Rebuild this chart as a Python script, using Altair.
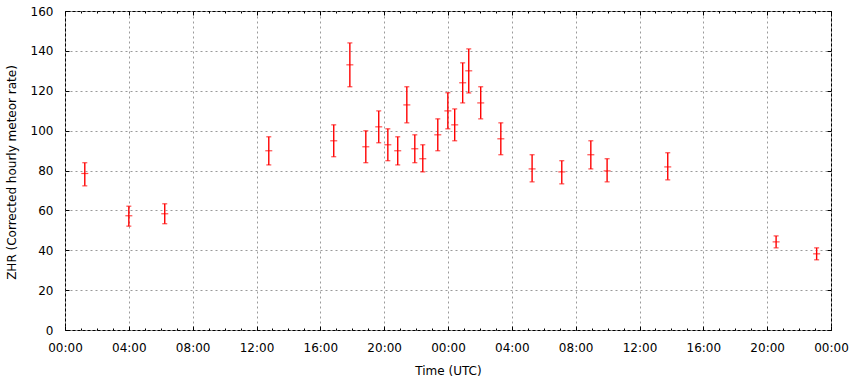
import altair as alt
import pandas as pd

# Observation times in hours from 00:00 UTC of the first day
hours = [1.24, 4.0, 6.25, 12.77, 16.84, 17.85, 18.85, 19.66, 20.23, 20.85, 21.42,
         21.92, 22.42, 23.36, 23.99, 24.42, 24.92, 25.30, 26.05, 27.31, 29.27,
         31.13, 32.95, 33.97, 37.77, 44.56, 47.10]
zhr = [78.5, 57.3, 58.3, 89.9, 94.9, 133.0, 91.9, 101.9, 92.9, 89.9, 112.9,
       90.9, 85.9, 97.9, 109.9, 102.9, 124.0, 130.0, 113.9, 95.9, 80.8,
       79.3, 87.9, 79.8, 81.8, 44.2, 38.2]
zhr_low = [72.3, 52.1, 53.3, 82.8, 86.9, 122.0, 83.9, 93.9, 84.9, 82.8, 103.9,
           83.9, 79.3, 89.9, 100.9, 94.9, 113.9, 118.9, 105.9, 87.9, 74.3,
           73.3, 80.8, 74.3, 75.3, 41.2, 35.2]
zhr_high = [83.9, 62.1, 63.3, 96.9, 102.9, 144.0, 99.9, 109.9, 100.9, 96.9, 122.0,
            97.9, 92.9, 105.9, 119.0, 110.9, 134.0, 141.0, 122.0, 103.9, 87.9,
            84.9, 94.9, 85.9, 88.9, 47.2, 41.2]

x_major = list(range(0, 49, 4))
x_minor = list(range(0, 49, 1))
y_major = list(range(0, 161, 20))

df = pd.DataFrame({"t": hours, "zhr": zhr, "lo": zhr_low, "hi": zhr_high})

xs = alt.Scale(domain=[0, 48], nice=False, zero=False)
ys = alt.Scale(domain=[0, 160], nice=False)

RED = "#ff0000"
GRID = "#9a9a9a"
FONT = "DejaVu Sans"
label_expr = "(datum.value % 24 < 10 ? '0' : '') + (datum.value % 24) + ':00'"

base = alt.Chart(df)

main_x = alt.X("t:Q", scale=xs, axis=alt.Axis(
    orient="bottom", values=x_major, labelExpr=label_expr, title="Time (UTC)",
    ticks=False, domain=False, grid=True, gridColor=GRID, gridDash=[2, 3],
    gridWidth=1, labelPadding=12, labelFontSize=12, titleFontSize=12,
    labelFlush=False, labelOverlap=False,
    titleBaseline="alphabetic", titleY=44))
main_y = alt.Y("lo:Q", scale=ys, axis=alt.Axis(
    orient="left", values=y_major, title="ZHR (Corrected hourly meteor rate)",
    ticks=False, domain=False, grid=True, gridColor=GRID, gridDash=[2, 3],
    gridWidth=1, labelPadding=12, labelFontSize=12, titleFontSize=12,
    labelFlush=False, labelOverlap=False,
    titleX=-47, titleY=161))

bars = base.mark_rule(color=RED, strokeWidth=1.4).encode(
    x=main_x, y=main_y, y2="hi:Q")

cap_lo = base.mark_tick(color=RED, orient="horizontal", size=5, thickness=1.2).encode(
    x=alt.X("t:Q", scale=xs, axis=None), y=alt.Y("lo:Q", scale=ys, axis=None))
cap_hi = base.mark_tick(color=RED, orient="horizontal", size=5, thickness=1.2).encode(
    x=alt.X("t:Q", scale=xs, axis=None), y=alt.Y("hi:Q", scale=ys, axis=None))
center = base.mark_tick(color=RED, orient="horizontal", size=7, thickness=1.2).encode(
    x=alt.X("t:Q", scale=xs, axis=None), y=alt.Y("zhr:Q", scale=ys, axis=None))


def tick_layer(channel, orient, values, size):
    ax = alt.Axis(orient=orient, values=values, tickSize=size, offset=-size,
                  labels=False, domain=False, grid=False, title="",
                  ticks=True, tickColor="black", tickWidth=1)
    if channel == "x":
        enc = dict(x=alt.X("t:Q", scale=xs, axis=ax),
                   y=alt.Y("zhr:Q", scale=ys, axis=None))
    else:
        enc = dict(x=alt.X("t:Q", scale=xs, axis=None),
                   y=alt.Y("zhr:Q", scale=ys, axis=ax))
    return base.mark_point(opacity=0).encode(**enc)


layers = [
    bars, cap_lo, cap_hi, center,
    tick_layer("x", "bottom", x_major, 4),
    tick_layer("x", "bottom", x_minor, 2),
    tick_layer("x", "top", x_major, 4),
    tick_layer("x", "top", x_minor, 2),
    tick_layer("y", "left", y_major, 4),
    tick_layer("y", "right", y_major, 4),
]

chart = alt.layer(*layers).resolve_axis(
    x="independent", y="independent"
).properties(
    width=766, height=319,
    autosize=alt.AutoSizeParams(type="none"),
    padding={"left": 65, "top": 11, "right": 25, "bottom": 53},
    background="white",
).configure_view(
    stroke="black", strokeWidth=1
).configure_axis(
    labelFont=FONT, titleFont=FONT, labelColor="black", titleColor="black",
    titleFontWeight="normal"
)

chart.save("out.html", embed_options={"renderer": "svg", "actions": False})
